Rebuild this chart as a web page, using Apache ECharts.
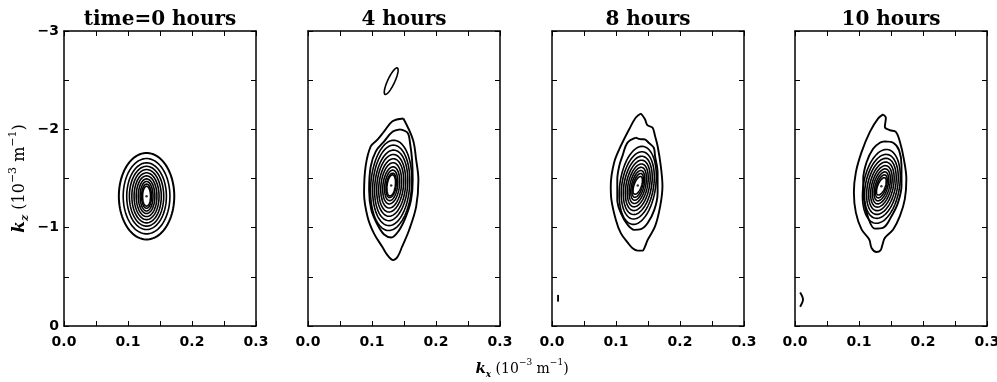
<!DOCTYPE html>
<html>
<head>
<meta charset="utf-8">
<script src="https://cdn.jsdelivr.net/npm/echarts@6/dist/echarts.min.js"></script>
<style>
  html, body { margin: 0; padding: 0; background: #fff; }
  #main { width: 997px; height: 382px; }
</style>
</head>
<body>
<div id="main"></div>
<script>
// panel titles and axis ranges
var panelTitles = ['time=0 hours', '4 hours', '8 hours', '10 hours'];
var xRange = [0, 0.3];
var yRange = [-3, 0];

// centre of the nested (ellipse-like) contours of each panel [kx, kz]
var centers = [[0.129, -1.32], [0.130, -1.43], [0.134, -1.43], [0.135, -1.42]];

// semi-axes of the nested contours, outer -> inner (data units) and tilt (deg)
var p1Rx = [0.0433, 0.0365, 0.0310, 0.0268, 0.0230, 0.0195, 0.0162, 0.0130, 0.0101, 0.0078, 0.0062];
var p1Ry = [0.44, 0.383, 0.339, 0.304, 0.271, 0.238, 0.207, 0.176, 0.150, 0.123, 0.101];
var p1Tilt = [0, 0, 0, 0, 0, 0, 0, 0, 0, 0, 0];

var p2Rx = [0.0320, 0.0288, 0.0256, 0.0224, 0.0192, 0.0160, 0.0129, 0.0100, 0.0077, 0.0064];
var p2Ry = [0.46, 0.41, 0.36, 0.315, 0.272, 0.231, 0.190, 0.156, 0.125, 0.108];
var p2Tilt = [4, 4, 5, 5, 6, 6, 7, 7, 8, 8];

var p3Rx = [0.0280, 0.0248, 0.0215, 0.0182, 0.0151, 0.0122, 0.0096, 0.0074, 0.0057];
var p3Ry = [0.40, 0.345, 0.30, 0.26, 0.222, 0.188, 0.155, 0.125, 0.095];
var p3Tilt = [8, 9, 10, 11, 12, 13, 14, 16, 20];

var p4Rx = [0.0282, 0.0250, 0.0217, 0.0184, 0.0153, 0.0124, 0.0097, 0.0075, 0.0058];
var p4Ry = [0.38, 0.33, 0.29, 0.252, 0.216, 0.183, 0.152, 0.122, 0.094];
var p4Tilt = [10, 11, 12, 13, 14, 15, 16, 18, 22];

// isolated small contour in the 4 hour panel [kx, kz, rx, ry, tilt]
var p2Island = [0.130, -2.49, 0.0055, 0.148, 25];

// irregular outer contours [kx, kz]
var p2Outer = [[0.149, -2.11], [0.164, -1.895], [0.169, -1.69], [0.1725, -1.486], [0.169, -1.214], [0.158, -0.976],
  [0.147, -0.806], [0.140, -0.704], [0.133, -0.670], [0.124, -0.721], [0.116, -0.806], [0.103, -0.942],
  [0.093, -1.112], [0.0876, -1.350], [0.090, -1.622], [0.098, -1.827], [0.1085, -1.895], [0.119, -1.98],
  [0.132, -2.082], [0.149, -2.11]];
var p2Second = [[0.144, -2.0], [0.1558, -1.963], [0.1594, -1.861], [0.1626, -1.690], [0.1636, -1.486], [0.161, -1.282],
  [0.153, -1.112], [0.142, -0.97], [0.130, -0.90], [0.119, -0.93], [0.1086, -1.03], [0.099, -1.180],
  [0.0955, -1.384], [0.098, -1.622], [0.106, -1.776], [0.119, -1.878], [0.132, -1.975], [0.144, -2.0]];

var p3Outer = [[0.139, -2.161], [0.1453, -2.103], [0.149, -2.042], [0.157, -2.018], [0.161, -1.933], [0.165, -1.830],
  [0.170, -1.626], [0.1726, -1.422], [0.169, -1.217], [0.161, -1.013], [0.1495, -0.876], [0.1453, -0.808],
  [0.1416, -0.767], [0.1337, -0.767], [0.1259, -0.791], [0.119, -0.842], [0.1075, -0.944], [0.0997, -1.081],
  [0.0928, -1.285], [0.0918, -1.422], [0.097, -1.660], [0.1075, -1.831], [0.1206, -2.001], [0.131, -2.12],
  [0.139, -2.161]];
var p3Second = [[0.131, -1.916], [0.139, -1.899], [0.144, -1.899], [0.152, -1.858], [0.159, -1.814], [0.161, -1.728],
  [0.165, -1.558], [0.165, -1.353], [0.160, -1.183], [0.1495, -1.047], [0.139, -0.985], [0.1285, -0.978],
  [0.118, -1.030], [0.1075, -1.149], [0.102, -1.285], [0.102, -1.490], [0.105, -1.626], [0.110, -1.728],
  [0.118, -1.865], [0.131, -1.916]];

var p4Outer = [[0.1378, -2.152], [0.142, -2.117], [0.1404, -2.025], [0.148, -1.991], [0.1575, -1.974], [0.164, -1.871],
  [0.170, -1.700], [0.174, -1.495], [0.1716, -1.290], [0.164, -1.119], [0.1534, -0.982], [0.1404, -0.896],
  [0.1367, -0.828], [0.1336, -0.770], [0.1274, -0.753], [0.1196, -0.794], [0.116, -0.879], [0.104, -0.982],
  [0.0951, -1.153], [0.092, -1.358], [0.0951, -1.563], [0.104, -1.768], [0.117, -1.974], [0.130, -2.111],
  [0.1378, -2.152]];
var p4Second = [[0.1404, -1.878], [0.1534, -1.864], [0.1627, -1.786], [0.1664, -1.632], [0.1664, -1.426], [0.161, -1.255],
  [0.151, -1.119], [0.138, -1.0], [0.1248, -0.99], [0.1144, -1.10], [0.1076, -1.290], [0.1066, -1.495],
  [0.1118, -1.666], [0.122, -1.803], [0.1326, -1.864], [0.1404, -1.878]];

// small stray contour fragments near the lower-left corner
var p3Mark = [[0.0095, -0.316], [0.0095, -0.248]];
var p4Mark = [[0.008, -0.34], [0.0125, -0.27], [0.008, -0.197]];

var gridLefts = [64, 308, 552, 795];
var gridW = 192, gridTop = 31, gridH = 295;

var chart = echarts.init(document.getElementById('main'));

function ellipseItems(c, rx, ry, tilt) {
  var out = [];
  for (var i = 0; i < rx.length; i++) {
    out.push([c[0], c[1], rx[i], ry[i], tilt[i]]);
  }
  return out;
}

function renderEllipse(params, api) {
  var c = api.coord([api.value(0), api.value(1)]);
  var sx = Math.abs(api.size([api.value(2), 0])[0]);
  var sy = Math.abs(api.size([0, api.value(3)])[1]);
  var a = api.value(4) * Math.PI / 180;
  var pts = [];
  for (var k = 0; k < 90; k++) {
    var t = k / 90 * 2 * Math.PI;
    var ex = sx * Math.cos(t), ey = sy * Math.sin(t);
    pts.push([c[0] + ex * Math.cos(a) - ey * Math.sin(a), c[1] + ex * Math.sin(a) + ey * Math.cos(a)]);
  }
  return {
    type: 'polygon',
    shape: { points: pts },
    style: { fill: 'none', stroke: '#000', lineWidth: params.dataIndex === 0 && params.seriesIndex === 0 ? 2 : 1.6 }
  };
}

function makeRich(base) {
  return {
    k: { fontFamily: 'DejaVu Serif', fontStyle: 'italic', fontWeight: 'bold', fontSize: base + 1, color: '#000', lineHeight: base + 7 },
    sub: { fontFamily: 'DejaVu Serif', fontStyle: 'italic', fontWeight: 'bold', fontSize: base - 5, color: '#000', verticalAlign: 'bottom', lineHeight: base + 7 },
    t: { fontFamily: 'DejaVu Serif', fontSize: base, color: '#000', lineHeight: base + 7 },
    sup: { fontFamily: 'DejaVu Serif', fontSize: base - 5, color: '#000', verticalAlign: 'top', lineHeight: base + 7 }
  };
}

var grids = [], xAxes = [], yAxes = [], series = [], graphics = [];
var tickStyle = { color: '#000', width: 1 };
var lineStyle = { color: '#000', width: 1.5 };

for (var i = 0; i < 4; i++) {
  grids.push({ left: gridLefts[i], top: gridTop, width: gridW, height: gridH, outerBoundsMode: 'none', containLabel: false });
  ['bottom', 'top'].forEach(function (pos) {
    xAxes.push({
      type: 'value', gridIndex: i, position: pos, min: xRange[0], max: xRange[1], interval: 0.1,
      axisLine: { onZero: false, lineStyle: lineStyle },
      axisTick: { inside: true, length: 5, lineStyle: tickStyle },
      minorTick: { show: true, splitNumber: 2, length: 5, lineStyle: tickStyle },
      splitLine: { show: false }, minorSplitLine: { show: false },
      axisLabel: {
        show: pos === 'bottom', color: '#000', fontFamily: 'DejaVu Sans', fontWeight: 'bold', fontSize: 14, margin: 9,
        formatter: function (v) { return v.toFixed(1); }
      }
    });
  });
  ['left', 'right'].forEach(function (pos) {
    var y = {
      type: 'value', gridIndex: i, position: pos, min: yRange[0], max: yRange[1], interval: 1, inverse: true,
      axisLine: { onZero: false, lineStyle: lineStyle },
      axisTick: { inside: true, length: 5, lineStyle: tickStyle },
      minorTick: { show: true, splitNumber: 2, length: 5, lineStyle: tickStyle },
      splitLine: { show: false }, minorSplitLine: { show: false },
      axisLabel: {
        show: i === 0 && pos === 'left', color: '#000', fontFamily: 'DejaVu Sans', fontWeight: 'bold', fontSize: 14, margin: 5,
        formatter: function (v) { return String(v).replace('-', '\u2212'); }
      }
    };
    if (i === 0 && pos === 'left') {
      y.name = '{k|k}{sub|z}{t| (10}{sup|\u22123}{t| m}{sup|\u22121}{t|)}';
      y.nameLocation = 'middle';
      y.nameRotate = 90;
      y.nameGap = 33;
      y.nameTextStyle = { rich: makeRich(16) };
    }
    yAxes.push(y);
  });
  graphics.push({
    type: 'text', x: gridLefts[i] + gridW / 2, y: 20,
    style: { text: panelTitles[i], fill: '#000', font: 'bold 20px "DejaVu Serif"', textAlign: 'center', textVerticalAlign: 'middle' }
  });
}

graphics.push({
  type: 'text', x: 522, y: 369,
  style: {
    text: '{k|k}{sub|x}{t| (10}{sup|\u22123}{t| m}{sup|\u22121}{t|)}', rich: makeRich(14),
    textAlign: 'center', textVerticalAlign: 'middle'
  }
});

var ellipseSets = [
  ellipseItems(centers[0], p1Rx, p1Ry, p1Tilt),
  ellipseItems(centers[1], p2Rx, p2Ry, p2Tilt).concat([p2Island]),
  ellipseItems(centers[2], p3Rx, p3Ry, p3Tilt),
  ellipseItems(centers[3], p4Rx, p4Ry, p4Tilt)
];
var outerSets = [[], [p2Outer, p2Second], [p3Outer, p3Second, p3Mark], [p4Outer, p4Second, p4Mark]];

ellipseSets.forEach(function (items, i) {
  series.push({
    type: 'custom', xAxisIndex: i * 2, yAxisIndex: i * 2, renderItem: renderEllipse,
    data: items, silent: true, clip: true
  });
});
outerSets.forEach(function (lines, i) {
  lines.forEach(function (pts) {
    series.push({
      type: 'line', xAxisIndex: i * 2, yAxisIndex: i * 2, data: pts, symbol: 'none', smooth: 0.35,
      lineStyle: { color: '#000', width: 1.9 }, silent: true
    });
  });
});
centers.forEach(function (c, i) {
  series.push({
    type: 'scatter', xAxisIndex: i * 2, yAxisIndex: i * 2, data: [c], symbolSize: 2.5,
    itemStyle: { color: '#000' }, silent: true
  });
});

chart.setOption({
  animation: false,
  backgroundColor: '#fff',
  grid: grids,
  xAxis: xAxes,
  yAxis: yAxes,
  series: series,
  graphic: graphics
});
</script>
</body>
</html>
